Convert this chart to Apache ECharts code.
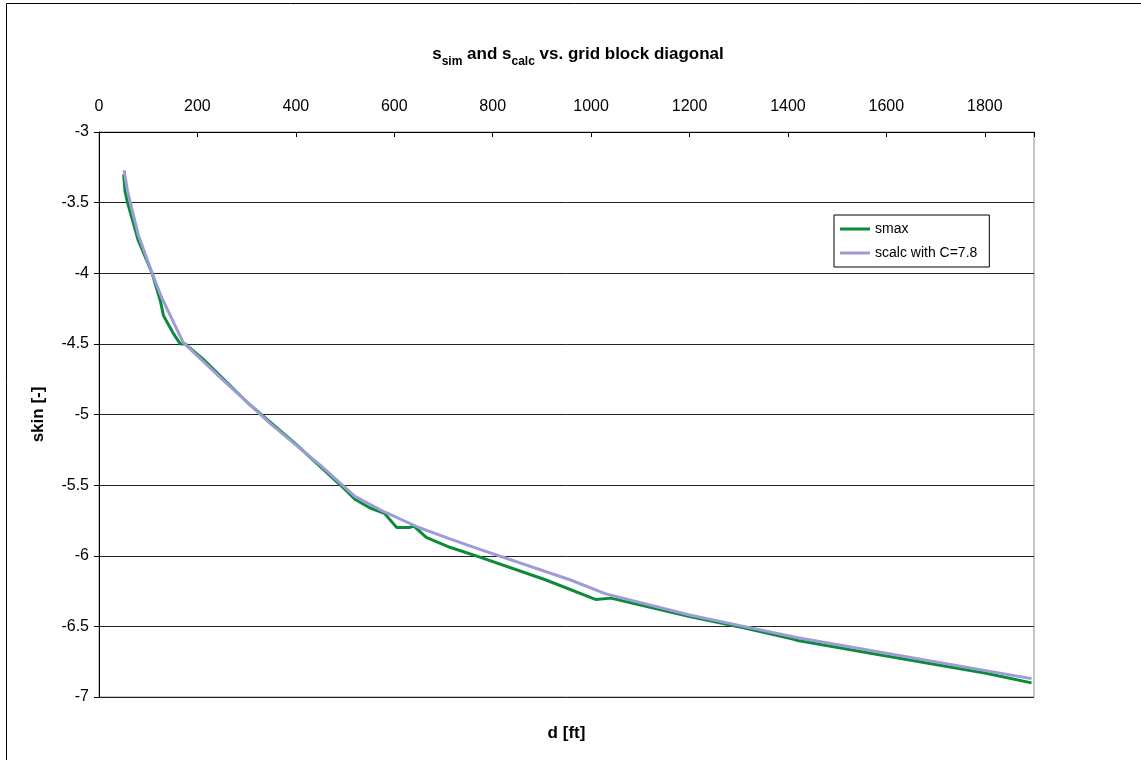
<!DOCTYPE html>
<html>
<head>
<meta charset="utf-8">
<script src="https://cdn.jsdelivr.net/npm/echarts@6/dist/echarts.min.js"></script>
<style>
html,body{margin:0;padding:0;background:#fff;}
#chart{width:1141px;height:760px;}
</style>
</head>
<body>
<div id="chart"></div>
<script>
// ---- data ----
const seriesNames = ['smax', 'scalc with C=7.8'];
const dSmax = [50, 53, 58, 80, 108, 125, 131, 150, 165, 175, 212, 300, 400, 500, 520, 550, 580, 605, 630, 640, 665, 713, 774, 907, 1010, 1040, 1200, 1310, 1410, 1420, 1600, 1800, 1895];
const sSmax = [-3.30, -3.42, -3.50, -3.77, -4.00, -4.20, -4.30, -4.42, -4.50, -4.50, -4.61, -4.91, -5.21, -5.53, -5.60, -5.66, -5.70, -5.80, -5.80, -5.79, -5.87, -5.94, -6.01, -6.17, -6.31, -6.30, -6.43, -6.51, -6.59, -6.60, -6.71, -6.83, -6.90];
const dScalc = [51, 58, 80, 108, 127, 171, 250, 350, 450, 520, 580, 650, 713, 774, 957, 1030, 1200, 1310, 1420, 1600, 1895];
const sScalc = [-3.27, -3.42, -3.73, -4.00, -4.17, -4.49, -4.75, -5.07, -5.36, -5.58, -5.69, -5.80, -5.88, -5.955, -6.17, -6.27, -6.42, -6.50, -6.58, -6.69, -6.87];
const xMin = 0, xMax = 1900, xStep = 200;
const yMin = -7, yMax = -3, yStep = 0.5;

const zip = (a, b) => a.map((v, i) => [v, b[i]]);
const FONT = '"Liberation Sans", Arial, sans-serif';

const chart = echarts.init(document.getElementById('chart'));
chart.setOption({
  backgroundColor: '#fff',
  animation: false,
  textStyle: { fontFamily: FONT, color: '#000' },
  title: {
    text: '{b|s}{sub|sim}{b| and s}{sub|calc}{b| vs. grid block diagonal}',
    left: 573, top: 36, textAlign: 'center',
    textStyle: {
      rich: {
        b: { fontFamily: FONT, fontWeight: 'bold', fontSize: 17, color: '#000', verticalAlign: 'bottom', lineHeight: 22 },
        sub: { fontFamily: FONT, fontWeight: 'bold', fontSize: 12, color: '#000', verticalAlign: 'bottom', lineHeight: 22, padding: [0, 0, -5, 0] }
      }
    }
  },
  graphic: [{
    type: 'rect', silent: true, z: -1,
    shape: { x: 6.5, y: 3.5, width: 1200, height: 800 },
    style: { fill: 'none', stroke: '#000', lineWidth: 1 }
  }],
  legend: {
    orient: 'vertical', left: 834, top: 215,
    backgroundColor: '#fff',
    borderColor: '#000', borderWidth: 1,
    padding: [7, 12, 7, 6],
    icon: 'rect',
    itemWidth: 30, itemHeight: 3, itemGap: 10,
    textStyle: { fontFamily: FONT, fontSize: 14, color: '#000' },
    data: seriesNames
  },
  grid: {
    left: 99, right: 107, top: 132, bottom: 63,
    show: true, borderColor: '#8c8c8c', borderWidth: 1
  },
  xAxis: [{
    type: 'value', position: 'top', min: xMin, max: xMax, interval: xStep,
    axisLine: { show: true, onZero: false, lineStyle: { color: '#000', width: 1 } },
    axisTick: { show: true, inside: true, length: 5, lineStyle: { color: '#000' } },
    axisLabel: {
      fontFamily: FONT, fontSize: 16, color: '#000', margin: 17,
      formatter: v => (v % xStep === 0 ? String(v) : '')
    },
    splitLine: { show: false }
  }, {
    type: 'value', position: 'bottom', min: xMin, max: xMax,
    name: 'd [ft]', nameLocation: 'middle', nameGap: 28,
    nameTextStyle: { fontFamily: FONT, fontSize: 17, fontWeight: 'bold', color: '#000' },
    axisLine: { show: false }, axisTick: { show: false }, axisLabel: { show: false }, splitLine: { show: false }
  }],
  yAxis: {
    type: 'value', min: yMin, max: yMax, interval: yStep,
    name: 'skin [-]', nameLocation: 'middle', nameGap: 52, nameRotate: 90,
    nameTextStyle: { fontFamily: FONT, fontSize: 17, fontWeight: 'bold', color: '#000' },
    axisLine: { show: true, onZero: false, lineStyle: { color: '#000', width: 1 } },
    axisTick: { show: true, inside: false, length: 5, lineStyle: { color: '#000' } },
    axisLabel: { fontFamily: FONT, fontSize: 16, color: '#000', margin: 10 },
    splitLine: { show: true, lineStyle: { color: '#222', width: 1 } }
  },
  series: [{
    name: seriesNames[0], type: 'line', data: zip(dSmax, sSmax),
    symbol: 'none', smooth: false,
    lineStyle: { color: '#0b8a3c', width: 3 }, itemStyle: { color: '#0b8a3c' }
  }, {
    name: seriesNames[1], type: 'line', data: zip(dScalc, sScalc),
    symbol: 'none', smooth: false,
    lineStyle: { color: '#9c9cd6', width: 3 }, itemStyle: { color: '#9c9cd6' }
  }]
});
</script>
</body>
</html>
